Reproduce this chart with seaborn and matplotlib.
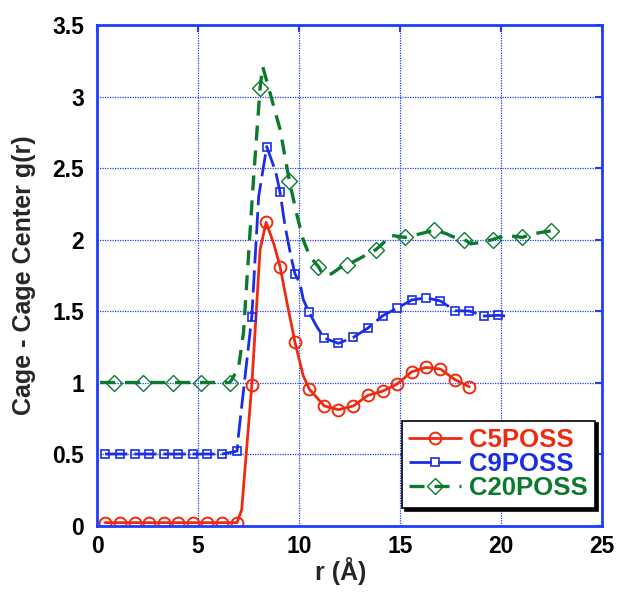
import matplotlib
matplotlib.use("Agg")
import matplotlib.pyplot as plt
import seaborn as sns
import pandas as pd
from matplotlib.ticker import FormatStrFormatter

# ---- data ----
c5_r = [0.40, 1.14, 1.88, 2.59, 3.32, 4.01, 4.75, 5.45, 6.19, 6.93,
        7.16, 7.66, 8.07, 8.37, 8.75, 9.06, 9.40, 9.80, 10.20, 10.50,
        11.25, 11.95, 12.69, 13.40, 14.14, 14.86, 15.58, 16.29, 17.00, 17.72, 18.43]
c5_g = [0.02, 0.02, 0.02, 0.02, 0.02, 0.02, 0.02, 0.02, 0.02, 0.02,
        0.11, 0.98, 1.93, 2.12, 1.97, 1.81, 1.56, 1.28, 1.05, 0.955,
        0.836, 0.81, 0.836, 0.91, 0.94, 0.99, 1.075, 1.106, 1.094, 1.02, 0.97]
c5_marks = [0, 1, 2, 3, 4, 5, 6, 7, 8, 9, 11, 13, 15, 17, 19,
            20, 21, 22, 23, 24, 25, 26, 27, 28, 29, 30]

c9_r = [0.40, 1.14, 1.88, 2.59, 3.32, 4.01, 4.75, 5.45, 6.19, 6.93,
        7.00, 7.66, 8.00, 8.40, 8.85, 9.06, 9.30, 9.60, 9.80, 10.05, 10.21,
        10.50, 10.88, 11.25, 11.95, 12.69, 13.40, 14.14, 14.84, 15.58, 16.29,
        17.00, 17.72, 18.43, 19.16, 19.87, 20.20]
c9_g = [0.50, 0.50, 0.50, 0.50, 0.50, 0.50, 0.50, 0.50, 0.50, 0.52,
        0.63, 1.46, 2.30, 2.65, 2.47, 2.33, 2.10, 1.88, 1.76, 1.69, 1.58,
        1.49, 1.39, 1.31, 1.274, 1.316, 1.38, 1.467, 1.519, 1.577, 1.593,
        1.57, 1.502, 1.50, 1.465, 1.47, 1.465]
c9_marks = [0, 1, 2, 3, 4, 5, 6, 7, 8, 9, 11, 13, 15, 18, 21,
            23, 24, 25, 26, 27, 28, 29, 30, 31, 32, 33, 34, 35]

c20_r = [0.15, 0.84, 2.29, 3.75, 5.15, 6.58, 7.00, 7.25, 7.72, 8.07, 8.20,
         8.65, 9.06, 9.52, 9.88, 10.20, 10.54, 10.96, 11.20, 11.60, 12.00,
         12.36, 12.90, 13.81, 14.20, 14.50, 15.25, 16.00, 16.70, 17.30, 17.60,
         18.18, 18.50, 19.00, 19.59, 20.20, 21.05, 21.60, 22.00, 22.46]
c20_g = [1.00, 1.00, 1.00, 1.00, 1.00, 1.00, 1.10, 1.35, 2.37, 3.06, 3.21,
         2.98, 2.77, 2.41, 2.18, 2.00, 1.88, 1.81, 1.75, 1.76, 1.80,
         1.82, 1.86, 1.93, 1.98, 2.03, 2.015, 2.04, 2.066, 2.04, 2.02,
         2.00, 1.97, 1.98, 2.00, 2.03, 2.015, 2.04, 2.05, 2.06]
c20_marks = [1, 2, 3, 4, 5, 9, 13, 17, 21, 23, 26, 28, 31, 34, 36, 39]

series_names = ["C5POSS", "C9POSS", "C20POSS"]
x_ticks = [0, 5, 10, 15, 20, 25]
y_ticks = [0, 0.5, 1, 1.5, 2, 2.5, 3, 3.5]

# ---- style ----
sns.set_theme(style="white")
plt.rcParams["font.family"] = ["Liberation Sans", "DejaVu Sans"]
plt.rcParams["font.weight"] = "bold"

RED = "#f02a10"
BLUE = "#1a2ee8"
GREEN = "#0b7a2c"
FRAME = "#1f3cff"

fig = plt.figure(figsize=(6.22, 5.94), dpi=100)
ax = fig.add_axes([0.156, 0.1153, 0.812, 0.8426])

d5 = pd.DataFrame({"r": c5_r, "g": c5_g})
d9 = pd.DataFrame({"r": c9_r, "g": c9_g})
d20 = pd.DataFrame({"r": c20_r, "g": c20_g})

sns.lineplot(data=d5, x="r", y="g", ax=ax, sort=False, estimator=None,
             color=RED, lw=2.0, marker="o", markersize=8.5, markevery=c5_marks,
             markerfacecolor="none", markeredgecolor=RED, markeredgewidth=1.4,
             label=series_names[0])
sns.lineplot(data=d9, x="r", y="g", ax=ax, sort=False, estimator=None,
             color=BLUE, lw=2.0, linestyle=(0, (8, 2.5)), marker="s", markersize=6,
             markevery=c9_marks, markerfacecolor="none", markeredgecolor=BLUE,
             markeredgewidth=1.2, label=series_names[1])
sns.lineplot(data=d20, x="r", y="g", ax=ax, sort=False, estimator=None,
             color=GREEN, lw=2.4, linestyle=(0, (4.5, 3)), marker="D", markersize=8,
             markevery=c20_marks, markerfacecolor="none", markeredgecolor=GREEN,
             markeredgewidth=1.0, label=series_names[2])

ax.set_xlim(0, 25)
ax.set_ylim(0, 3.5)
ax.set_xticks(x_ticks)
ax.set_yticks(y_ticks)
ax.yaxis.set_major_formatter(FormatStrFormatter("%g"))
ax.grid(True, linestyle=(0, (1, 1)), color=FRAME, lw=0.9)
for sp in ax.spines.values():
    sp.set_color(FRAME)
    sp.set_linewidth(2.0)
ax.tick_params(direction="in", color=FRAME, length=5, width=1.5,
               top=True, right=True, labelsize=16.5, labelcolor="black")
ax.tick_params(axis="x", pad=7)
ax.tick_params(axis="y", pad=9.5)
for lab in ax.get_xticklabels() + ax.get_yticklabels():
    lab.set_fontweight("bold")

ax.set_xlabel("r (Å)", fontsize=18, fontweight="bold")
ax.set_ylabel("Cage - Cage Center g(r)", fontsize=18, fontweight="bold")
ax.xaxis.set_label_coords(0.482, -0.062)
ax.yaxis.set_label_coords(-0.12, 0.5)

leg = ax.legend(loc="lower right", bbox_to_anchor=(0.986, 0.035), frameon=True,
                fancybox=False, shadow={"color": "black", "alpha": 1.0},
                edgecolor="black", prop={"size": 18.5, "weight": "bold"},
                handlelength=2.0, handletextpad=0.3, borderpad=0.3,
                labelspacing=0.0, borderaxespad=0.0)
leg.get_frame().set_linewidth(1.2)
for txt, c in zip(leg.get_texts(), [RED, BLUE, GREEN]):
    txt.set_color(c)

fig.savefig("out.png", dpi=100)
